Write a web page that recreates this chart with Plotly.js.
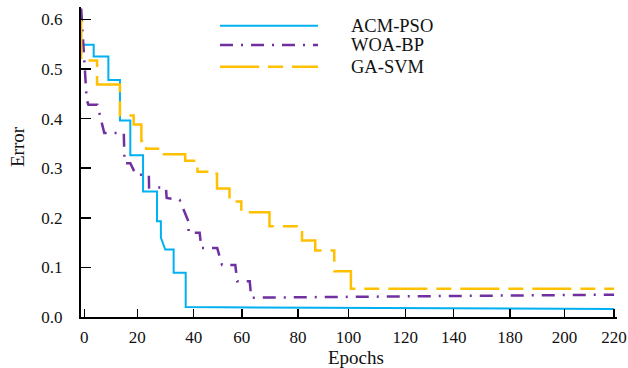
<!DOCTYPE html>
<html>
<head>
<meta charset="utf-8">
<script src="https://cdn.plot.ly/plotly-3.0.1.min.js"></script>
<style>
html,body{margin:0;padding:0;background:#fff;}
#chart{width:628px;height:368px;}
</style>
</head>
<body>
<div id="chart"></div>
<script>
// Series names
const seriesNames = ["ACM-PSO", "WOA-BP", "GA-SVM"];

// ACM-PSO (step curve)
const acmX = [-1.3, -1.3, 3.9, 3.9, 10.0, 10.0, 14.8, 14.8, 19.1, 19.1, 24.4, 24.4, 30.2, 30.2, 31.8, 31.8, 33.6, 37.1, 37.1, 42.1, 42.1, 220];
const acmY = [0.578, 0.549, 0.549, 0.525, 0.525, 0.478, 0.478, 0.396, 0.396, 0.326, 0.326, 0.253, 0.253, 0.193, 0.193, 0.160, 0.136, 0.136, 0.089, 0.089, 0.020, 0.016];

// WOA-BP
const woaX = [-1.3, 1.0, 1.7, 5.4, 8.3, 16.4, 16.7, 19.1, 21.4, 26.8, 26.9, 33.9, 34.2, 39.6, 43.3, 43.3, 47.9, 48.6, 55.2, 57.2, 62.7, 63.5, 68.7, 69.3, 220];
const woaY = [0.622, 0.438, 0.428, 0.428, 0.371, 0.371, 0.310, 0.310, 0.287, 0.287, 0.261, 0.261, 0.240, 0.236, 0.192, 0.170, 0.170, 0.139, 0.139, 0.105, 0.105, 0.072, 0.072, 0.039, 0.045];

// GA-SVM
const gaX = [-1.3, -1.3, 5.3, 5.3, 14.8, 14.8, 20.5, 20.5, 23.7, 23.7, 25.7, 25.7, 33.0, 33.0, 41.9, 41.9, 47.0, 47.0, 52.0, 52.0, 55.1, 55.1, 60.3, 60.3, 65.2, 65.2, 76.9, 76.9, 90.4, 90.4, 95.9, 95.9, 103.8, 103.8, 110.7, 110.7, 220];
const gaY = [0.599, 0.517, 0.517, 0.469, 0.469, 0.406, 0.406, 0.388, 0.388, 0.355, 0.355, 0.339, 0.339, 0.328, 0.328, 0.315, 0.315, 0.293, 0.293, 0.289, 0.289, 0.259, 0.259, 0.233, 0.233, 0.211, 0.211, 0.183, 0.183, 0.154, 0.154, 0.134, 0.134, 0.092, 0.092, 0.057, 0.057];

// X tick labels (as printed in the figure) and where they sit
const xTickText = ["0", "20", "40", "60", "80", "100", "120", "140", "180", "200", "220"];
const xTickPos = [0, 22.0, 45.4, 65.4, 88.7, 109.7, 133.3, 153.4, 176.8, 199.4, 220];
const yTickVals = [0, 0.1, 0.2, 0.3, 0.4, 0.5, 0.6];

const colors = ["#00B0F0", "#7030A0", "#FFC000"];
const dashes = ["solid", "13px,8px,2px,8px", "39px,9px,15px,9px"];
const widths = [2, 2.5, 2.5];
const FONT = "Liberation Serif";

const xs = [acmX, woaX, gaX], ys = [acmY, woaY, gaY];
const traces = seriesNames.map((n, i) => ({
  x: xs[i], y: ys[i], name: n, type: "scatter", mode: "lines",
  line: {color: colors[i], width: widths[i], dash: dashes[i]},
  showlegend: false, hoverinfo: "skip"
}));

// legend built from shapes + annotations
const legRowsY = [0.9397, 0.8775, 0.8076];
const shapes = seriesNames.map((n, i) => ({
  type: "line", xref: "paper", yref: "paper",
  x0: 0.2593, x1: 0.4422, y0: legRowsY[i], y1: legRowsY[i],
  line: {color: colors[i], width: widths[i], dash: dashes[i]}
}));
const annotations = seriesNames.map((n, i) => ({
  text: n, xref: "paper", yref: "paper", x: 0.5, y: legRowsY[i],
  xanchor: "left", yanchor: "middle", showarrow: false,
  font: {family: FONT, size: 18.5, color: "#111"}
}));
annotations.push({
  text: "Epochs", xref: "paper", yref: "paper", x: 0.513, y: -0.13,
  xanchor: "center", yanchor: "middle", showarrow: false,
  font: {family: FONT, size: 19, color: "#111"}
});
annotations.push({
  text: "Error", xref: "paper", yref: "paper", x: -0.1185, y: 0.55,
  xanchor: "center", yanchor: "middle", showarrow: false, textangle: -90,
  font: {family: FONT, size: 19, color: "#111"}
});

const tickFont = {family: FONT, size: 17, color: "#111"};

const layout = {
  width: 628, height: 368,
  margin: {l: 81, r: 11, t: 7, b: 51, pad: 0},
  paper_bgcolor: "#fff", plot_bgcolor: "#fff",
  showlegend: false,
  font: {family: FONT, size: 17, color: "#111"},
  xaxis: {
    range: [-1.37, 221.2], showgrid: false, zeroline: false,
    showline: true, linecolor: "#000", linewidth: 2,
    ticks: "inside", ticklen: 8, tickwidth: 1.5, tickcolor: "#000",
    tickvals: xTickPos, ticktext: xTickText,
    tickfont: tickFont,
    ticklabelstandoff: 4
  },
  yaxis: {
    range: [0, 0.625], showgrid: false, zeroline: false,
    showline: true, linecolor: "#000", linewidth: 2,
    ticks: "inside", ticklen: 10, tickwidth: 1.5, tickcolor: "#000",
    tickvals: yTickVals, tickformat: ".1f",
    tickfont: tickFont,
    ticklabelstandoff: 13
  },
  shapes: shapes,
  annotations: annotations
};

Plotly.newPlot("chart", traces, layout, {staticPlot: true, displayModeBar: false});
</script>
</body>
</html>
